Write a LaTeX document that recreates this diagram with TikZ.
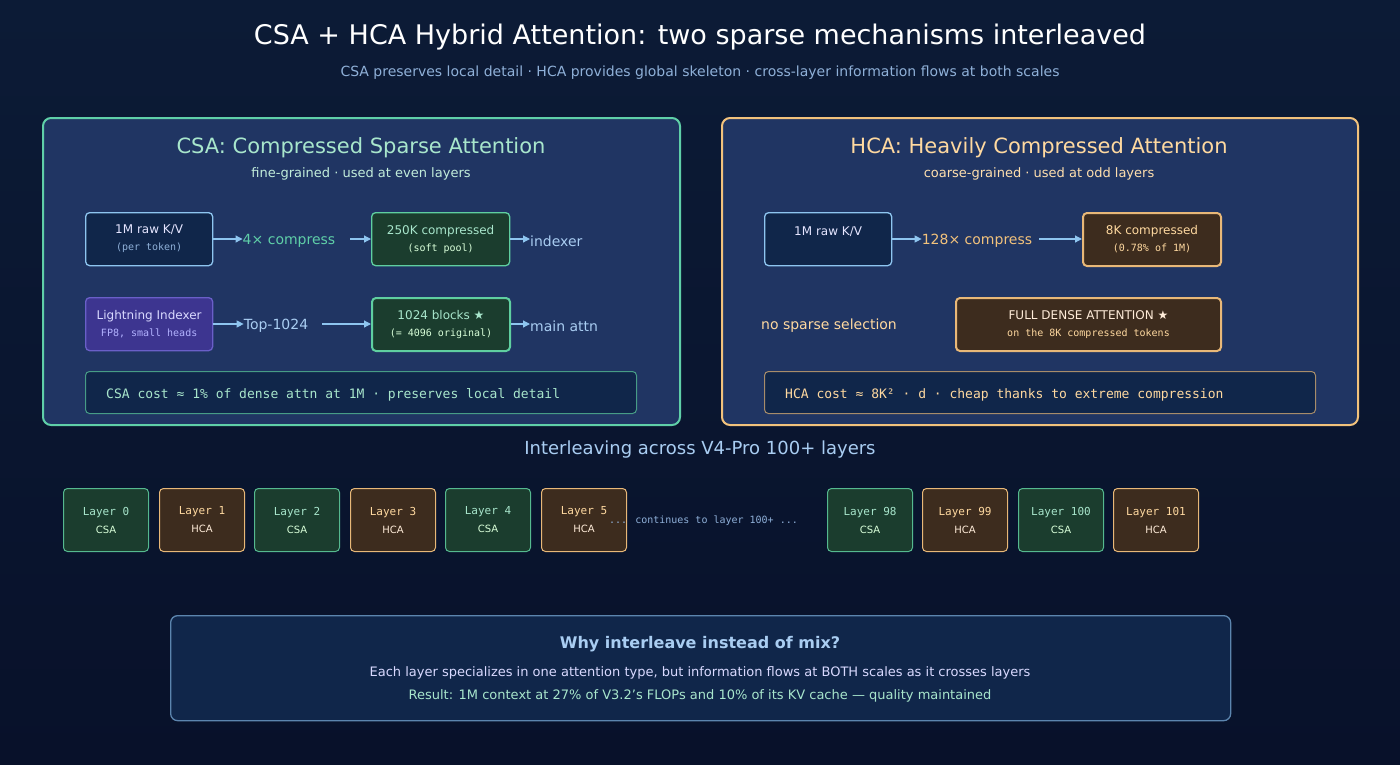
\documentclass[tikz,border=0pt]{standalone}
\usepackage{fontspec}
\setmainfont{DejaVu Sans}
\newfontfamily\mono{DejaVu Sans Mono}
\usetikzlibrary{arrows.meta}
\definecolor{bgtop}{HTML}{0C1B36}
\definecolor{bgbot}{HTML}{08112A}
\definecolor{panel}{HTML}{203563}
\definecolor{csab}{HTML}{5FCFA8}
\definecolor{hcab}{HTML}{F2C27C}
\definecolor{dbf}{HTML}{10264A}
\definecolor{dbb}{HTML}{8EC5F0}
\definecolor{gf}{HTML}{1B3D2E}
\definecolor{gb}{HTML}{5FCFA0}
\definecolor{pf}{HTML}{3D3590}
\definecolor{pb}{HTML}{6A5FC8}
\definecolor{bf}{HTML}{3D2C1E}
\definecolor{bb}{HTML}{E8B878}
\definecolor{sub}{HTML}{8FB0D8}
\definecolor{lgreen}{HTML}{A8E6CC}
\definecolor{lorange}{HTML}{FFD9A0}
\definecolor{lblue}{HTML}{A9CDF2}
\definecolor{arr}{HTML}{8EC5F0}
\tikzset{
 bx/.style={draw, rounded corners=4pt, line width=1.3pt, align=center},
 arw/.style={-{Triangle[length=7pt,width=7pt]}, arr, line width=1.2pt},
 t/.style={inner sep=0pt, align=center},
}
\newcommand{\rbox}[7]{% name x1 y1 x2 y2 style
 \node[bx,#6,minimum width=#4pt-#2pt,minimum height=#5pt-#3pt,anchor=north west,inner sep=0pt] (#1) at (#2,#3) {#7};}
\begin{document}
\begin{tikzpicture}[x=1pt,y=-1pt]
\shade[top color=bgtop,bottom color=bgbot] (0,0) rectangle (1400,764);
\useasboundingbox (0,0) rectangle (1400,764);
\node[t,white,font=\fontsize{27}{30}\selectfont] (title) at (700,37) {CSA + HCA Hybrid Attention: two sparse mechanisms interleaved};
\node[t,sub,font=\fontsize{14}{16}\selectfont] (subt) at (700,73) {CSA preserves local detail · HCA provides global skeleton · cross-layer information flows at both scales};
% panels
\rbox{csap}{42}{117}{679}{424}{fill=panel,draw=csab,line width=2pt,rounded corners=8pt}{}
\rbox{hcap}{721}{117}{1357}{424}{fill=panel,draw=hcab,line width=2pt,rounded corners=8pt}{}
\node[t,lgreen,font=\fontsize{21}{24}\selectfont] (csah) at (361,148) {CSA: Compressed Sparse Attention};
\node[t,lgreen!70!white,font=\fontsize{13}{15}\selectfont] (csas) at (361,174) {fine-grained · used at even layers};
\node[t,lorange,font=\fontsize{21}{24}\selectfont] (hcah) at (1039,148) {HCA: Heavily Compressed Attention};
\node[t,lorange!85!white,font=\fontsize{13}{15}\selectfont] (hcas) at (1039,174) {coarse-grained · used at odd layers};
% CSA boxes
\rbox{raw}{85}{212}{212}{265}{fill=dbf,draw=dbb}{\fontsize{12}{14}\selectfont\color{white!90!blue}1M raw K/V\\[5pt]{\mono\fontsize{10}{12}\selectfont\color{sub}(per token)}}
\rbox{comp}{371}{212}{509}{265}{fill=gf,draw=gb}{\fontsize{12}{14}\selectfont\color{lgreen}250K compressed\\[5pt]{\mono\fontsize{10}{12}\selectfont\color{white!85!green}(soft pool)}}
\rbox{light}{85}{297}{212}{350}{fill=pf,draw=pb}{\fontsize{12}{14}\selectfont\color{white!85!blue}Lightning Indexer\\[5pt]{\mono\fontsize{10}{12}\selectfont\color{white!70!blue}FP8, small heads}}
\rbox{blocks}{371}{297}{509}{350}{fill=gf,draw=gb,line width=2pt}{\fontsize{12}{14}\selectfont\color{lgreen}1024 blocks ★\\[5pt]{\mono\fontsize{10}{12}\selectfont\color{white!85!green}(= 4096 original)}}
\rbox{csac}{85}{371}{636}{413}{fill=dbf,draw=gb!70!dbf,line width=1pt}{}
\node[t,anchor=west,lgreen,font=\mono\fontsize{13}{15}\selectfont] (csact) at (106,395) {CSA cost ≈ 1\% of dense attn at 1M · preserves local detail};
\node[t,csab,font=\fontsize{14}{16}\selectfont] (fourx) at (289,241) {4× compress};
\node[t,anchor=west,lblue,font=\fontsize{14}{16}\selectfont] (idx) at (530,241) {indexer};
\node[t,lblue,font=\fontsize{14}{16}\selectfont] (top) at (276,326) {Top-1024};
\node[t,anchor=west,lblue,font=\fontsize{14}{16}\selectfont] (main) at (530,326) {main attn};
\draw[arw] (raw.east|-0,239) -- (fourx.west|-0,239);
\draw[arw] (fourx.east|-0,239) ++(15,0) -- (comp.west|-0,239);
\draw[arw] (comp.east|-0,239) -- (idx.west|-0,239);
\draw[arw] (light.east|-0,324) -- (top.west|-0,324);
\draw[arw] (top.east|-0,324) ++(14,0) -- (blocks.west|-0,324);
\draw[arw] (blocks.east|-0,324) -- (main.west|-0,324);
% HCA boxes
\rbox{hraw}{764}{212}{891}{265}{fill=dbf,draw=dbb}{\fontsize{12}{14}\selectfont\color{white!90!blue}1M raw K/V\\[5pt]\mono\fontsize{10}{12}\selectfont\ }
\rbox{k8}{1082}{212}{1220}{265}{fill=bf,draw=bb,line width=2pt}{\fontsize{12}{14}\selectfont\color{lorange}8K compressed\\[5pt]{\mono\fontsize{10}{12}\selectfont\color{lorange}(0.78\% of 1M)}}
\rbox{dense}{955}{297}{1220}{350}{fill=bf,draw=bb,line width=2pt}{\fontsize{12}{14}\selectfont\color{white!85!orange}FULL DENSE ATTENTION ★\\[5pt]{\mono\fontsize{10}{12}\selectfont\color{lorange}on the 8K compressed tokens}}
\rbox{hcac}{764}{371}{1315}{413}{fill=dbf,draw=bb!70!dbf,line width=1pt}{}
\node[t,anchor=west,lorange,font=\mono\fontsize{13}{15}\selectfont] (hcact) at (785,395) {HCA cost ≈ 8K² · d · cheap thanks to extreme compression};
\node[t,hcab,font=\fontsize{14}{16}\selectfont] (x128) at (977,241) {128× compress};
\node[t,lorange,font=\fontsize{14}{16}\selectfont] (nss) at (829,326) {no sparse selection};
\draw[arw] (hraw.east|-0,239) -- (x128.west|-0,239);
\draw[arw] (x128.east|-0,239) ++(7,0) -- (k8.west|-0,239);
% interleave
\node[t,lblue,font=\fontsize{18}{20}\selectfont] (inter) at (700,450) {Interleaving across V4-Pro 100+ layers};
\foreach \n/\x/\k in {0/63/C,1/159/H,2/254/C,3/350/H,4/445/C,5/541/H,98/827/C,99/922/H,100/1018/C,101/1113/H}{
 \if\k C
  \rbox{L\n}{\x}{488}{\x+85}{551}{fill=gf,draw=gb!85!gf,line width=1pt}{\mono\fontsize{11}{13}\selectfont\color{lgreen}Layer \n\\[6pt]\color{white!85!green}CSA}
 \else
  \rbox{L\n}{\x}{488}{\x+85}{551}{fill=bf,draw=bb,line width=1pt}{\mono\fontsize{11}{13}\selectfont\color{lorange}Layer \n\\[6pt]\color{white!85!orange}HCA}
 \fi
}
\node[t,sub,font=\mono\fontsize{10}{12}\selectfont,anchor=west] (cont) at (609,521) {... continues to layer 100+ ...};
% bottom
\rbox{why}{170}{615}{1230}{720}{fill=dbf,draw=dbb!60!dbf,line width=1.3pt,rounded corners=7pt}{}
\node[t,lblue,font=\bfseries\fontsize{16}{18}\selectfont] (wh) at (700,644) {Why interleave instead of mix?};
\node[t,white!85!blue,font=\fontsize{13}{15}\selectfont] (w1) at (700,673) {Each layer specializes in one attention type, but information flows at BOTH scales as it crosses layers};
\node[t,lgreen,font=\fontsize{13}{15}\selectfont] (w2) at (700,696) {Result: 1M context at 27\% of V3.2's FLOPs and 10\% of its KV cache — quality maintained};
\end{tikzpicture}
\end{document}
